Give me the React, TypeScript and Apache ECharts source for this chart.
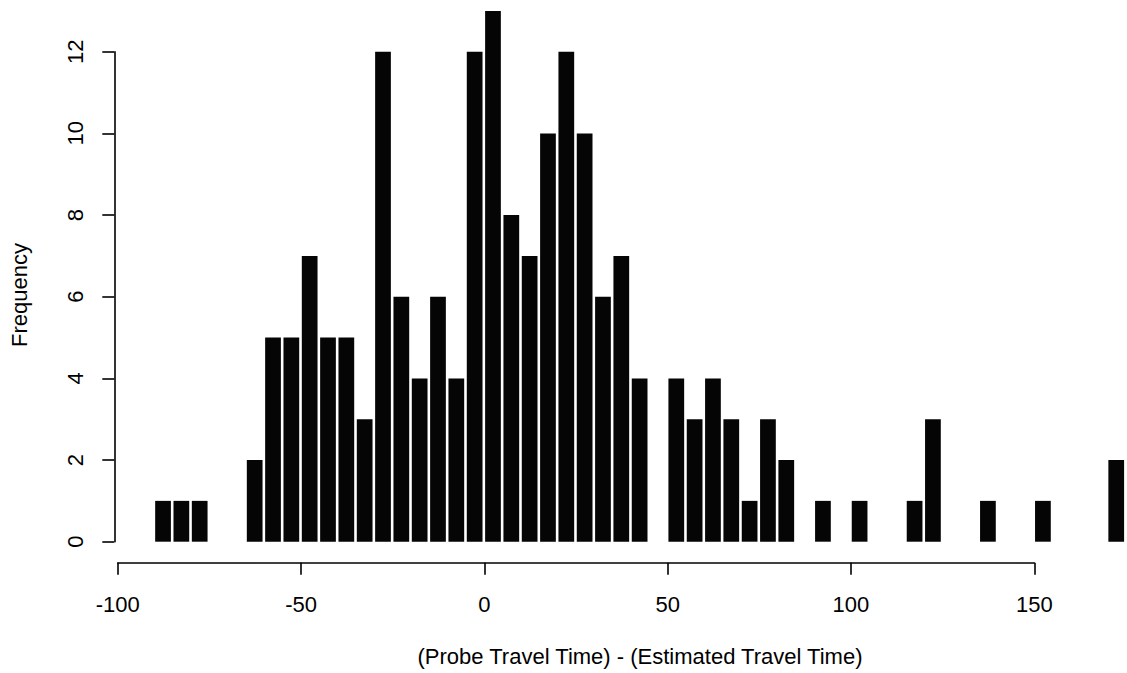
import React, { useEffect, useRef } from "react";
import * as echarts from "echarts";

// Histogram bins (left edge of each 5-unit bin) and their frequencies
const binWidth = 5;
const binStarts = [-90, -85, -80, -65, -60, -55, -50, -45, -40, -35, -30, -25, -20, -15, -10, -5, 0, 5, 10, 15, 20, 25, 30, 35, 40, 50, 55, 60, 65, 70, 75, 80, 90, 100, 115, 120, 135, 150, 170];
const counts = [1, 1, 1, 2, 5, 5, 7, 5, 5, 3, 12, 6, 4, 6, 4, 12, 13, 8, 7, 10, 12, 10, 6, 7, 4, 4, 3, 4, 3, 1, 3, 2, 1, 1, 1, 3, 1, 1, 2];

const xTitle = "(Probe Travel Time) - (Estimated Travel Time)";
const yTitle = "Frequency";

const FONT = '"Liberation Sans", Arial, Helvetica, sans-serif';
const FS = 22;

export default function App() {
  const ref = useRef<HTMLDivElement>(null);
  useEffect(() => {
    if (!ref.current) return;
    const chart = echarts.init(ref.current, undefined, { renderer: "svg" });
    const data = binStarts.map((s, i) => [s, counts[i]]);
    const axisStyle = { color: "#000", width: 1.6 };
    chart.setOption({
      animation: false,
      backgroundColor: "#fff",
      grid: [
        { left: 117.7, right: 1.1, top: 10.9, bottom: 131.3 },
        { left: 117.7, right: 92.7, top: 51.7, bottom: 131.3 },
      ],
      xAxis: [
        { gridIndex: 0, type: "value", min: -100, max: 175, show: false },
        {
          gridIndex: 1,
          type: "value",
          min: -100,
          max: 150,
          interval: 50,
          position: "bottom",
          offset: 21,
          axisLine: { show: true, onZero: false, lineStyle: axisStyle },
          axisTick: { show: true, length: 12, lineStyle: axisStyle },
          axisLabel: { color: "#000", fontSize: FS, fontFamily: FONT, margin: 31, showMinLabel: true, showMaxLabel: true },
          splitLine: { show: false },
        },
      ],
      yAxis: [
        { gridIndex: 0, type: "value", min: 0, max: 13, show: false },
        {
          gridIndex: 1,
          type: "value",
          min: 0,
          max: 12,
          interval: 2,
          position: "left",
          offset: 3.4,
          axisLine: { show: true, onZero: false, lineStyle: axisStyle },
          axisTick: { show: true, length: 12, lineStyle: axisStyle },
          axisLabel: {
            color: "#000",
            fontSize: FS,
            fontFamily: FONT,
            rotate: 90,
            align: "center",
            verticalAlign: "bottom",
            margin: 28,
            showMinLabel: true,
            showMaxLabel: true,
          },
          splitLine: { show: false },
        },
      ],
      series: [
        {
          type: "custom",
          xAxisIndex: 0,
          yAxisIndex: 0,
          data,
          renderItem: (params: any, api: any) => {
            const start = api.value(0);
            const c = api.value(1);
            const p0 = api.coord([start, 0]);
            const p1 = api.coord([start + binWidth, c]);
            return {
              type: "rect",
              shape: {
                x: p0[0] + 0.8,
                y: p1[1],
                width: p1[0] - p0[0] - 2.6,
                height: p0[1] - p1[1],
              },
              style: { fill: "#050505" },
            };
          },
        },
      ],
      graphic: [
        {
          type: "text",
          x: 640,
          y: 656,
          style: { text: xTitle, fill: "#000", font: `${FS}px ${FONT}`, textAlign: "center", textVerticalAlign: "middle" },
        },
        {
          type: "text",
          x: 19,
          y: 295,
          rotation: Math.PI / 2,
          style: { text: yTitle, fill: "#000", font: `${FS}px ${FONT}`, textAlign: "center", textVerticalAlign: "middle" },
        },
      ],
    });
    return () => chart.dispose();
  }, []);
  return (
    <div
      ref={ref}
      style={{ position: "fixed", left: 0, top: 0, width: 1127, height: 673, background: "#fff" }}
    />
  );
}
